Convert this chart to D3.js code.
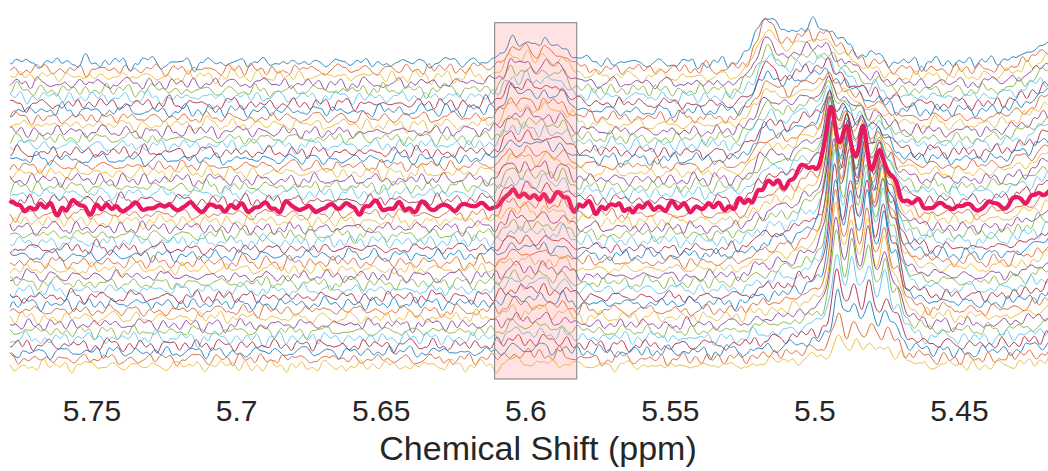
<!DOCTYPE html>
<html><head><meta charset="utf-8">
<script src="https://cdn.jsdelivr.net/npm/d3@7"></script>
<style>html,body{margin:0;padding:0;background:#fff;overflow:hidden}</style>
</head><body><svg id="chart" width="1048" height="471"></svg>
<script>
// ---------- data ----------
const ppmStart = 5.7782, ppmEnd = 5.413, ppmStep = 0.0007;
const tickValues = [5.75, 5.7, 5.65, 5.6, 5.55, 5.5, 5.45];
const axisTitle = "Chemical Shift (ppm)";
const highlightRange = [5.6106, 5.5822];
const highlightTrace = 21;

// multiplet near 5.49 ppm (per trace, top trace first)
const reactantLines = [5.4943, 5.4888, 5.4831, 5.4774, 5.4730];
const reactantRel   = [1.0, 0.85, 0.85, 0.7, 0.3];
const reactantHeight = [5,6,7,8,9,11,13,15,18,21,24,28,32,36,41,46,51,57,63,69,74,78,86,94,101,108,114,120,125,130,133,135,134,132,127,122,114,108,103,98,84,68,56,40,27];
const reactantShift = [0.0012,0.0012,0.0011,0.0011,0.0010,0.0010,0.0009,0.0009,0.0008,0.0008,0.0007,0.0007,0.0006,0.0006,0.0005,0.0005,0.0004,0.0003,0.0002,0.0001,0.0001,0.0000,-0.0001,-0.0002,-0.0003,-0.0004,-0.0005,-0.0006,-0.0007,-0.0008,-0.0009,-0.0010,-0.0011,-0.0012,-0.0013,-0.0014,-0.0015,-0.0016,-0.0017,-0.0018,-0.0019,-0.0021,-0.0023,-0.0025,-0.0027];

// broad product signal near 5.51 ppm
const productSharpCenter = 5.5169, productBroadCenter = 5.5015;
const productSharp = [38,36,34,32,30,29,28,27,26,25,24,23,22,21,20,19,18,17,16,15,14,12,11,10,9,9,8,8,7,7,6,6,5,5,5,4,4,4,3,3,3,2,2,2,2];
const productBroad = [36,36,36,35,35,35,35,34,34,34,34,34,33,33,33,33,33,32,32,32,32,33,30,28,26,24,22,20,19,18,17,16,15,14,13,12,11,10,9,9,8,8,7,7,6];

// multiplet near 5.60 ppm (highlighted)
const midLines = [5.6047, 5.5995, 5.5933, 5.5871];
const midRel   = [1.0, 0.8, 0.9, 0.75];
const midHeight = [22,22,21,21,21,20,20,20,19,19,18,18,18,17,17,16,16,15,15,14,14,13,13,12,12,11,11,10,10,10,9,9,8,8,8,7,7,7,6,6,6,5,5,5,4];

// tail of a signal beyond the right edge
const edgeCenter = 5.4084;
const edgeHeight = [30,30,30,30,30,30,30,29,29,29,29,29,29,29,28,28,28,28,28,28,28,28,27,27,26,26,25,24,23,22,21,20,19,18,17,16,15,14,14,13,13,12,12,11,11];

// baseline noise (estimated)
const noise = [
3,-2,5,1,-4,-7,-2,4,8,2,-3,0,6,-1,-5,-8,-3,2,7,4,
-1,-6,0,5,9,3,-2,-7,-4,1,6,2,-3,-9,-5,0,4,8,5,-2,
-6,-3,2,7,1,-4,3,6,-1,-8,-6,-1,5,3,-2,4,9,6,0,-5,
-9,-4,1,-2,3,7,2,-3,-6,0,5,8,4,-1,-7,-3,2,-4,-8,-2,
4,7,1,-5,-2,3,6,9,5,-1,-4,-8,-5,0,2,-3,1,6,3,-4,
-7,-2,5,8,4,-3,-6,-1,3,-2,-9,-6,0,7,9,4,-2,-5,1,5,
2,-4,-8,-3,4,6,1,-5,-3,2,8,5,-1,-6,-2,3,0,-7,-4,2,
7,9,3,-2,-6,-1,4,2,-3,-7,-5,1,6,8,3,-4,-8,-2,3,6,
1,-3,-6,0,5,3,-2,-5,2,7,4,-1,-6,-9,-3,4,6,1,-4,-1,
5,8,2,-4,-7,-2,3,0,-5,-1,6,9,5,-2,-6,-4,1,4,-2,-6,
-3,2,6,3,-1,-5,-8,-4,2,5,1,-3,3,7,4,-2,-7,-5,0,6,
8,4,-1,-6,-3,1,-2,-7,-4,3,7,2,-4,-1,5,9,6,0,-5,-9,
-4,1,5,2,-3,-1,4,7,3,-2,-8,-6,-1,3,-1,-5,2,6,8,3,
-2,-7,-5,0,4,1,-3,2,6,4,-1,-5,-9,-4,2,7,3,-2,1,5,
2,-3,-6,-2,3,8,5,-1,-4,0,4,1,-6,-8,-3,4,7,2,-2,-5,
-1,4,9,6,1,-3,-7,-4,2,5,0,-4,-2,3,6,2,-5,-8,-4,1,
6,3,-2,-5,0,4,8,3,-3,-6,-2,2,-1,-7,-5,1,5,9,4,-3,
-6,-1,3,0,-4,-8,-5,2,6,3,-2,1,7,4,-3,-6,-1,2,-3,-7
];

const colors = ["#0072BD","#D95319","#EDB120","#7E2F8E","#77AC30","#4DBEEE","#A2142F"];
const highlightColor = "#E8195F";

// ---------- layout ----------
const traceSpacing = 6.89, fineScale = 0.38, slowScale = 2.0;
const N = reactantHeight.length;
const svg = d3.select("#chart");
const x = d3.scaleLinear().domain([ppmStart, 5.413]).range([10, 1066]);
const y = d3.scaleLinear().domain([0, 400]).range([366, -34]);

const lor = (p, c, w) => 1 / (1 + ((p - c) / w) ** 2);
const gau = (p, c, s) => Math.exp(-((p - c) ** 2) / (2 * s * s));
const multShape = p => d3.sum(reactantLines, (c, k) => reactantRel[k] * lor(p, c, 0.0019));
const midShape = p => d3.sum(midLines, (c, k) => midRel[k] * lor(p, c, 0.0022));
const multMax = d3.max(d3.range(5.51, 5.46, -0.00005), multShape);

const L = noise.length;
// smoothed copy of the noise table (moving average, 7 samples)
const smooth = noise.map((_, k) => d3.mean(d3.range(-3, 4), t => noise[(k + t + L) % L]));

const grid = d3.range(ppmStart, ppmEnd - 1e-9, -ppmStep);

const traces = d3.range(N).map(i => {
  const off = (N - 1 - i) * traceSpacing;
  const o1 = (i * 137) % L, o2 = (i * 53 + 17) % 359;
  return grid.map((p, j) => {
    const f = i % 2 === 0 ? noise[(o1 + j) % L] : noise[((o1 - j) % L + L) % L];
    const s = smooth[(o2 + j) % 359];
    const v = off + f * fineScale + s * slowScale
      + productSharp[i] * gau(p, productSharpCenter, 0.0035)
      + productBroad[i] * gau(p, productBroadCenter, 0.0095)
      + reactantHeight[i] * multShape(p - reactantShift[i]) / multMax
      + midHeight[i] * midShape(p)
      + edgeHeight[i] * gau(p, edgeCenter, 0.012);
    return {p, v};
  });
});

const line = d3.line().x(d => x(d.p)).y(d => y(d.v)).curve(d3.curveBasis);

const gLines = svg.append("g");
traces.forEach((t, i) => {
  if (i === highlightTrace) return;
  gLines.append("path").attr("d", line(t))
    .attr("fill", "none").attr("stroke", colors[i % colors.length])
    .attr("stroke-width", 1).attr("stroke-opacity", 0.85)
    .attr("stroke-linejoin", "round");
});
gLines.append("path").attr("d", line(traces[highlightTrace]))
  .attr("fill", "none").attr("stroke", highlightColor)
  .attr("stroke-width", 4.2).attr("stroke-linejoin", "round");

// highlight box
svg.append("rect")
  .attr("x", x(highlightRange[0])).attr("width", x(highlightRange[1]) - x(highlightRange[0]))
  .attr("y", y(343.3)).attr("height", y(-13) - y(343.3))
  .attr("fill", "rgb(255,110,110)").attr("fill-opacity", 0.2)
  .attr("stroke", "#7f7f7f").attr("stroke-width", 1);

// axis
const axis = d3.axisBottom(x).tickValues(tickValues).tickFormat(d => String(d))
  .tickSize(0).tickPadding(5);
const gx = svg.append("g").attr("transform", "translate(0,395)").call(axis);
gx.select(".domain").remove();
gx.selectAll("text").attr("font-family", "'Liberation Sans', Arial, Helvetica, sans-serif")
  .attr("font-size", 30).attr("fill", "#262626");

svg.append("text").attr("x", 538).attr("y", 460).attr("text-anchor", "middle")
  .attr("font-family", "'Liberation Sans', Arial, Helvetica, sans-serif")
  .attr("font-size", 34).attr("fill", "#262626").text(axisTitle);
</script>
</body></html>
